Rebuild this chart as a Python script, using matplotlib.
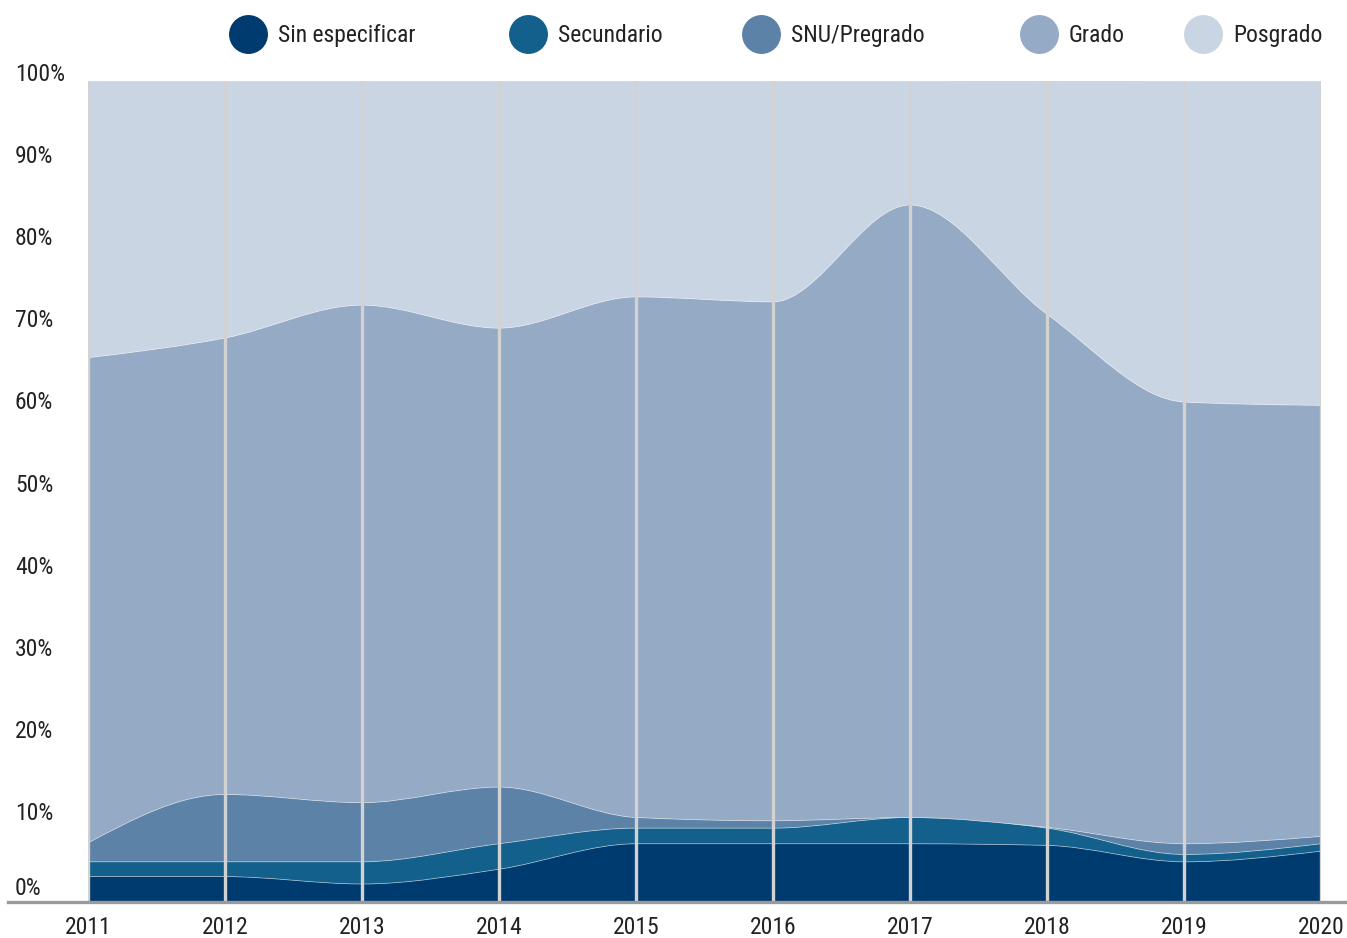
import numpy as np
import matplotlib.pyplot as plt
from matplotlib import font_manager
from matplotlib.path import Path
from matplotlib.patches import PathPatch
from matplotlib.lines import Line2D

# datos (% de cada nivel educativo por año)
anios = [2011, 2012, 2013, 2014, 2015, 2016, 2017, 2018, 2019, 2020]
sin_especificar = [3.1, 3.1, 2.2, 4.0, 7.1, 7.1, 7.1, 6.9, 4.9, 6.2]
secundario = [1.8, 1.8, 2.7, 3.1, 1.9, 1.9, 3.2, 2.1, 0.9, 0.9]
snu_pregrado = [2.3, 8.2, 7.2, 6.9, 1.3, 0.9, 0.0, 0.1, 1.3, 0.9]
grado = [59.1, 55.6, 60.6, 55.9, 63.4, 63.2, 74.6, 62.5, 53.8, 52.5]
posgrado = [33.7, 31.3, 27.3, 30.1, 26.3, 26.9, 15.1, 28.5, 39.1, 39.5]

series = [sin_especificar, secundario, snu_pregrado, grado, posgrado]
nombres = ['Sin especificar', 'Secundario', 'SNU/Pregrado', 'Grado', 'Posgrado']
colores = ['#003b6f', '#13608c', '#5d82a8', '#95aac4', '#cad5e3']

# buscar una fuente estrecha si hay alguna
fuentes = font_manager.fontManager.ttflist
nombres_f = {f.name for f in fuentes}
estirar = 'normal'
fam = None
for cand in ['Liberation Sans Narrow', 'Roboto Condensed', 'Open Sans Condensed',
             'Noto Sans Condensed', 'DejaVu Sans Condensed']:
    if cand in nombres_f:
        fam = cand
        break
if fam is None:
    for f in fuentes:
        if f.name in ('DejaVu Sans', 'Noto Sans', 'Open Sans', 'Roboto') and \
                str(f.stretch) in ('condensed', '75', '87.5', 'semi-condensed') and f.weight in (400, 'normal', 'regular'):
            fam = f.name
            estirar = f.stretch
            break
if fam is None:
    fam = 'Roboto'
tam = 16.5 if estirar == 'normal' and fam == 'Roboto' else 17

plt.rcParams['font.family'] = [fam, 'DejaVu Sans']
plt.rcParams['font.stretch'] = estirar
gris_texto = '#222222'


# tangentes tipo "monotoneX" para dibujar curvas suaves con beziers
def tangentes(x, y):
    x = np.asarray(x, float)
    y = np.asarray(y, float)
    n = len(x)
    t = np.zeros(n)
    for i in range(1, n - 1):
        h0 = x[i] - x[i - 1]
        h1 = x[i + 1] - x[i]
        s0 = (y[i] - y[i - 1]) / h0
        s1 = (y[i + 1] - y[i]) / h1
        p = (s0 * h1 + s1 * h0) / (h0 + h1)
        t[i] = (np.sign(s0) + np.sign(s1)) * min(abs(s0), abs(s1), 0.5 * abs(p))
    h = x[1] - x[0]
    t[0] = (3 * (y[1] - y[0]) / h - t[1]) / 2
    h = x[-1] - x[-2]
    t[-1] = (3 * (y[-1] - y[-2]) / h - t[-2]) / 2
    return t


def tramo(x, y, verts, codes):
    t = tangentes(x, y)
    for i in range(len(x) - 1):
        dx = (x[i + 1] - x[i]) / 3
        verts += [(x[i] + dx, y[i] + dx * t[i]),
                  (x[i + 1] - dx, y[i + 1] - dx * t[i + 1]),
                  (x[i + 1], y[i + 1])]
        codes += [Path.CURVE4] * 3


fig = plt.figure(figsize=(13.47, 9.38), dpi=100)
ax = fig.add_axes([88 / 1347, 36 / 938, 1233 / 1347, 821 / 938])

abajo = np.zeros(len(anios))
for vals, col in zip(series, colores):
    arriba = abajo + np.array(vals)
    verts = [(anios[0], arriba[0])]
    codes = [Path.MOVETO]
    tramo(anios, arriba, verts, codes)
    verts.append((anios[-1], abajo[-1]))
    codes.append(Path.LINETO)
    tramo(anios[::-1], abajo[::-1], verts, codes)
    verts.append((anios[0], arriba[0]))
    codes.append(Path.CLOSEPOLY)
    ax.add_patch(PathPatch(Path(verts, codes), facecolor=col,
                           edgecolor=(1, 1, 1, 0.35), lw=0.6))
    abajo = arriba

ax.set_xlim(anios[0], anios[-1])
ax.set_ylim(0, 100)

# lineas verticales
for a in anios:
    ax.axvline(a, color='#d2d2d2', lw=2.4, zorder=5)

# linea base
ax.add_line(Line2D([-80 / 1233, 1.05], [0, 0], transform=ax.transAxes,
                   color='#9a9a9a', lw=2.4, clip_on=False, zorder=6))

for s in ax.spines.values():
    s.set_visible(False)

ax.set_xticks(anios)
ax.set_xticklabels([str(a) for a in anios])
ax.tick_params(axis='x', length=0, pad=10, labelsize=tam, labelcolor=gris_texto)
ax.set_yticks([])

for v in range(0, 101, 10):
    ax.text(-73 / 1233, v + (0.8 if v == 0 else 0), f'{v}%',
            transform=ax.get_yaxis_transform(),
            ha='left', va='baseline', fontsize=tam, color=gris_texto)

# leyenda
xs_circ = [248, 528, 761, 1039, 1203]
for xc, nom, col in zip(xs_circ, nombres, colores):
    fig.add_artist(Line2D([xc / 1347], [1 - 34 / 938], transform=fig.transFigure,
                          marker='o', markersize=27, color=col, lw=0))
    fig.text((xc + 30) / 1347, 1 - 42 / 938, nom, ha='left', va='baseline',
             fontsize=tam, color=gris_texto)

fig.savefig('out.png', dpi=100)
